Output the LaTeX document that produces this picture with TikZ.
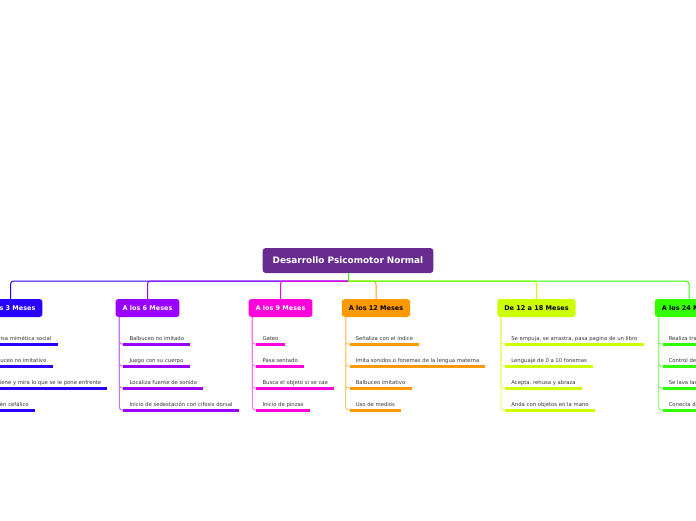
\documentclass[tikz,border=0pt]{standalone}
\usepackage{fontspec}
\setmainfont{DejaVu Sans}
\usetikzlibrary{positioning}
\definecolor{rootc}{HTML}{682C90}
\definecolor{cthree}{HTML}{2800FF}
\definecolor{csix}{HTML}{9900FF}
\definecolor{cnine}{HTML}{FF00DD}
\definecolor{ctwelve}{HTML}{FF9900}
\definecolor{ceighteen}{HTML}{CCFF00}
\definecolor{ctwentyfour}{HTML}{33FF00}
\definecolor{itemtext}{HTML}{333333}
\tikzset{
  rootbox/.style={fill=rootc, text=white, rounded corners=3pt, minimum height=25pt,
    inner xsep=10pt, font=\bfseries\fontsize{8.9}{10}\selectfont},
  branchbox/.style={fill=#1, rounded corners=3pt, minimum height=18pt, inner xsep=7pt,
    font=\bfseries\fontsize{6.5}{7}\selectfont},
  item/.style={anchor=south west, inner xsep=6pt, inner ysep=4pt, text depth=0pt,
    text=itemtext, font=\fontsize{5.3}{6}\selectfont},
  link/.style={draw=#1, line width=1pt, rounded corners=3pt},
  twig/.style={draw=#1!55!white, line width=1pt, rounded corners=3pt},
  ul/.style={draw=#1, line width=2.8pt}
}
\begin{document}
\begin{tikzpicture}[x=1pt, y=-1pt]
  \useasboundingbox (0,0) rectangle (696,520);
  \clip (0,0) rectangle (696,520);

  % main topic
  \node[rootbox] (root) at (348,260.5) {Desarrollo Psicomotor Normal};
  \coordinate (hub) at (348,281);

  % branches
  \node[branchbox=cthree, text=white] (b3) at (10.5,308) {A los 3 Meses};
  \node[branchbox=csix, text=white] (b6) at (147.5,308) {A los 6 Meses};
  \node[branchbox=cnine, text=white] (b9) at (280.5,308) {A los 9 Meses};
  \node[branchbox=ctwelve] (b12) at (376,308) {A los 12 Meses};
  \node[branchbox=ceighteen] (b18) at (536.5,308) {De 12 a 18 Meses};
  \node[branchbox=ctwentyfour] (b24) at (689,308) {A los 24 Meses};

  % connectors from the main topic
  \draw[link=cthree] (hub) -| (b3.north);
  \draw[link=csix] (hub) -| (b6.north);
  \draw[link=cnine] (hub) -| (b9.north);
  \draw[link=ctwelve] (hub) -| (b12.north);
  \draw[link=ceighteen] (hub) -| (b18.north);
  \draw[link=ctwentyfour] (hub) -| (b24.north);
  \draw[draw=ctwentyfour, line width=1pt] (root.south) -- (hub);

  % sub topics
  \coordinate (b3v) at ([xshift=4pt]b3.south west);
  \foreach \t [count=\i] in {Sonrisa mimética social, Balbuceo no imitativo,
      Sostiene y mira lo que se le pone enfrente, Sostén cefálico} {
    \draw[twig=cthree] (b3v) |- ([shift={(4,5+22*\i)}]b3.south west);
    \node[item] (b3-\i) at ([shift={(4,5+22*\i)}]b3.south west) {\t};
    \draw[ul=cthree] (b3-\i.south west) -- (b3-\i.south east);
  }

  \coordinate (b6v) at ([xshift=4pt]b6.south west);
  \foreach \t [count=\i] in {Balbuceo no imitado, Juego con su cuerpo,
      Localiza fuente de sonido, Inicio de sedestación con cifosis dorsal} {
    \draw[twig=csix] (b6v) |- ([shift={(8,5+22*\i)}]b6.south west);
    \node[item] (b6-\i) at ([shift={(8,5+22*\i)}]b6.south west) {\t};
    \draw[ul=csix] (b6-\i.south west) -- (b6-\i.south east);
  }

  \coordinate (b9v) at ([xshift=4pt]b9.south west);
  \foreach \t [count=\i] in {Gateo, Pasa sentado, Busca el objeto si se cae,
      Inicio de pinzas} {
    \draw[twig=cnine] (b9v) |- ([shift={(8,5+22*\i)}]b9.south west);
    \node[item] (b9-\i) at ([shift={(8,5+22*\i)}]b9.south west) {\t};
    \draw[ul=cnine] (b9-\i.south west) -- (b9-\i.south east);
  }

  \coordinate (b12v) at ([xshift=4pt]b12.south west);
  \foreach \t [count=\i] in {Señaliza con el índice,
      Imita sonidos o fonemas de la lengua materna, Balbuceo imitativo,
      Uso de medios} {
    \draw[twig=ctwelve] (b12v) |- ([shift={(8,5+22*\i)}]b12.south west);
    \node[item] (b12-\i) at ([shift={(8,5+22*\i)}]b12.south west) {\t};
    \draw[ul=ctwelve] (b12-\i.south west) -- (b12-\i.south east);
  }

  \coordinate (b18v) at ([xshift=4pt]b18.south west);
  \foreach \t [count=\i] in {{Se empuja, se arrastra, pasa pagina de un libro},
      Lenguaje de 0 a 10 fonemas, {Acepta, rehusa y abraza},
      Anda con objetos en la mano} {
    \draw[twig=ceighteen] (b18v) |- ([shift={(8,5+22*\i)}]b18.south west);
    \node[item] (b18-\i) at ([shift={(8,5+22*\i)}]b18.south west) {\t};
    \draw[ul=ceighteen] (b18-\i.south west) -- (b18-\i.south east);
  }

  \coordinate (b24v) at ([xshift=4pt]b24.south west);
  \foreach \t [count=\i] in {Realiza trazos, Control de esfínteres,
      Se lava las manos, Conecta dos palabras} {
    \draw[twig=ctwentyfour] (b24v) |- ([shift={(8,5+22*\i)}]b24.south west);
    \node[item] (b24-\i) at ([shift={(8,5+22*\i)}]b24.south west) {\t};
    \draw[ul=ctwentyfour] (b24-\i.south west) -- (b24-\i.south east);
  }
\end{tikzpicture}
\end{document}
